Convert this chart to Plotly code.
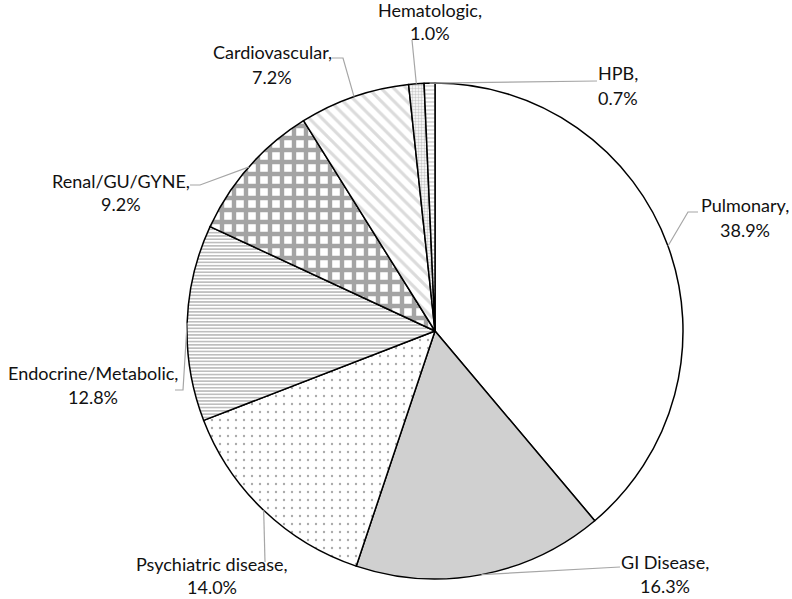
import math
import plotly.graph_objects as go

# ---- data ----
categories = ["Pulmonary", "GI Disease", "Psychiatric disease", "Endocrine/Metabolic",
              "Renal/GU/GYNE", "Cardiovascular", "Hematologic", "HPB"]
values = [38.9, 16.3, 14.0, 12.8, 9.2, 7.2, 1.0, 0.7]

# ---- styles ----
fills = ["white", "#d0d0d0", "white", "white", "white", "white", "white", "white"]
shapes_pat = ["", "", ".", "-", "+", "\\", ".", "-"]
fgcols = ["#000", "#000", "#555555", "#444444", "#4a4a4a", "#b8b8b8", "#9a9a9a", "#aaaaaa"]
sizes = [8, 8, 8, 3.3, 12, 9, 3, 4]
solid = [0.3, 0.3, 0.07, 0.35, 0.6, 0.35, 0.5, 0.4]

W, H = 792, 599
CX, CY, R = 435, 331, 248

# label layout (pixel positions): name-line center, pct-line center, elbow path
label_pos = {
    "Pulmonary": ((745, 205), (745, 230), [(688, 212), (698, 212)]),
    "GI Disease": ((665, 562), (665, 586), [(620, 567)]),
    "Psychiatric disease": ((212, 564), (212, 587), [(265, 562)]),
    "Endocrine/Metabolic": ((93, 373), (93, 397), [(183, 390), (175, 390)]),
    "Renal/GU/GYNE": ((121, 181), (121, 204), [(200, 185), (190, 185)]),
    "Cardiovascular": ((272, 52), (272, 77), [(343, 58), (332, 58)]),
    "Hematologic": ((430, 10), (430, 33), [(412, 40)]),
    "HPB": ((618, 73), (618, 98), [(597, 81)]),
}

def px(x, y):
    return x / W, 1 - y / H

fig = go.Figure(go.Pie(
    labels=categories, values=values, sort=False, direction="clockwise", rotation=0,
    textinfo="none", hoverinfo="label+percent",
    marker=dict(colors=fills, line=dict(color="black", width=1.5),
                pattern=dict(shape=shapes_pat, fgcolor=fgcols, bgcolor=fills,
                             size=sizes, solidity=solid, fillmode="overlay")),
    domain=dict(x=[(CX - R) / W, (CX + R) / W], y=[1 - (CY + R) / H, 1 - (CY - R) / H]),
    showlegend=False,
))

total = sum(values)
cum = 0.0
annotations = []
shapes = []
for name, v in zip(categories, values):
    mid = (cum + v / 2) / total * 2 * math.pi
    cum += v
    ax, ay = CX + R * math.sin(mid), CY - R * math.cos(mid)
    (n_xy, p_xy, elbow) = label_pos[name]
    pts = [(ax, ay)] + elbow
    path = "M " + " L ".join(f"{px(x, y)[0]},{px(x, y)[1]}" for x, y in pts)
    shapes.append(dict(type="path", xref="paper", yref="paper", path=path,
                       line=dict(color="#a6a6a6", width=1.2)))
    for txt, (tx, ty) in ((f"{name},", n_xy), (f"{v:.1f}%", p_xy)):
        x, y = px(tx, ty)
        annotations.append(dict(x=x, y=y, xref="paper", yref="paper", text=txt,
                                showarrow=False, xanchor="center", yanchor="middle",
                                borderpad=0,
                                font=dict(family="Lato", size=18, color="#111111")))

fig.update_layout(width=W, height=H, margin=dict(l=0, r=0, t=0, b=0),
                  paper_bgcolor="white", plot_bgcolor="white",
                  annotations=annotations, shapes=shapes)
fig.write_html("out.html", config={"displayModeBar": False},
               post_script="document.body.style.margin='0';document.body.style.padding='0';")
